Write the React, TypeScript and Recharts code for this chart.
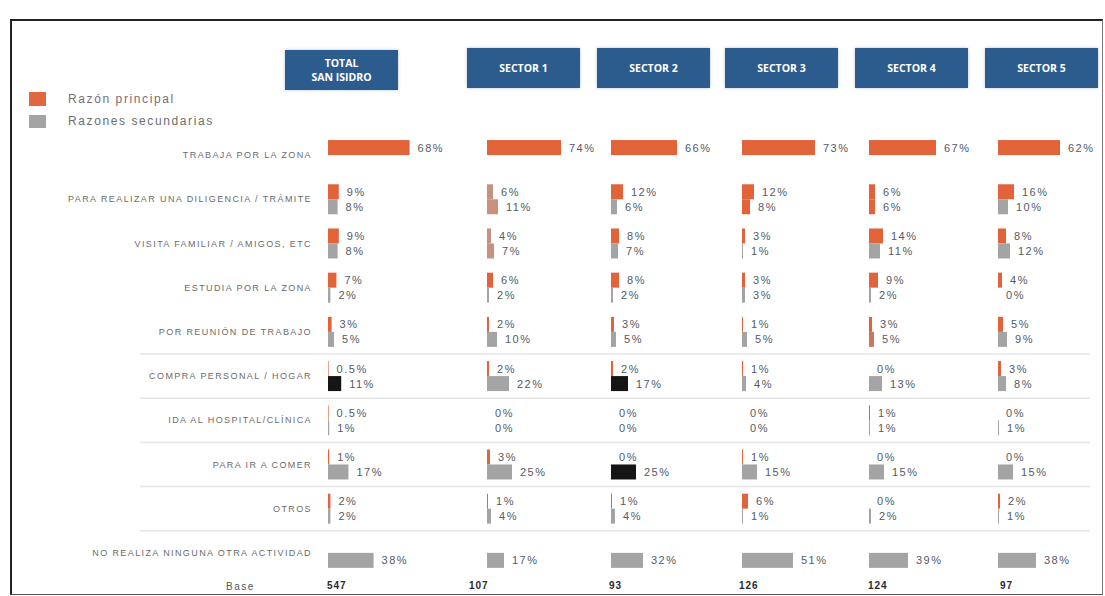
import { BarChart, Bar, XAxis, YAxis, Cell, LabelList } from 'recharts'

// categories, top to bottom
const categories = [
  'TRABAJA POR LA ZONA',
  'PARA REALIZAR UNA DILIGENCIA / TRÁMITE',
  'VISITA FAMILIAR / AMIGOS, ETC',
  'ESTUDIA POR LA ZONA',
  'POR REUNIÓN DE TRABAJO',
  'COMPRA PERSONAL / HOGAR',
  'IDA AL HOSPITAL/CLÍNICA',
  'PARA IR A COMER',
  'OTROS',
  'NO REALIZA NINGUNA OTRA ACTIVIDAD',
]

const panelTitles = [['TOTAL', 'SAN ISIDRO'], ['SECTOR 1'], ['SECTOR 2'], ['SECTOR 3'], ['SECTOR 4'], ['SECTOR 5']]
const baseCounts = [547, 107, 93, 126, 124, 97]

// % values (null = not asked)
const totalPrincipal = [68, 9, 9, 7, 3, 0.5, 0.5, 1, 2, null]
const totalSecundarias = [null, 8, 8, 2, 5, 11, 1, 17, 2, 38]
const sector1Principal = [74, 6, 4, 6, 2, 2, 0, 3, 1, null]
const sector1Secundarias = [null, 11, 7, 2, 10, 22, 0, 25, 4, 17]
const sector2Principal = [66, 12, 8, 8, 3, 2, 0, 0, 1, null]
const sector2Secundarias = [null, 6, 7, 2, 5, 17, 0, 25, 4, 32]
const sector3Principal = [73, 12, 3, 3, 1, 1, 0, 1, 6, null]
const sector3Secundarias = [null, 8, 1, 3, 5, 4, 0, 15, 1, 51]
const sector4Principal = [67, 6, 14, 9, 3, 0, 1, 0, 0, null]
const sector4Secundarias = [null, 6, 11, 2, 5, 13, 1, 15, 2, 39]
const sector5Principal = [62, 16, 8, 4, 5, 3, 0, 0, 2, null]
const sector5Secundarias = [null, 10, 12, 0, 9, 8, 1, 15, 1, 38]

const principalByPanel = [totalPrincipal, sector1Principal, sector2Principal, sector3Principal, sector4Principal, sector5Principal]
const secundariasByPanel = [totalSecundarias, sector1Secundarias, sector2Secundarias, sector3Secundarias, sector4Secundarias, sector5Secundarias]

const ORANGE = '#E2623A'
const GRAY = '#A4A4A4'
const TAN = '#C8907E'
const BLACK = '#151515'

// scan tints in the original
const tint: Record<string, string> = {
  '1-1-p': TAN, '1-1-s': TAN, '1-2-p': TAN, '1-2-s': TAN,
  '0-5-s': BLACK, '2-5-s': BLACK, '2-7-s': BLACK,
  '3-1-s': ORANGE, '4-1-s': ORANGE, '4-4-s': '#C97A5E',
}

const PLOT_TOP = 133
const ROW_H = 44.2
const H = 596
const FONT = '"Liberation Sans", Arial, sans-serif'

const panelLeft = [0, 487, 611, 742, 869, 998]
const headerLeft = [285, 467, 597, 725, 855, 985]
const baseLeft = [327, 469, 609, 739, 868, 1000]

const CatTick = ({ x, y, payload }: any) => (
  <text x={x} y={y} textAnchor="end" dominantBaseline="central"
    style={{ fontSize: 9, letterSpacing: '1.4px', fill: '#6b6b6b', fontFamily: FONT }}>
    {payload.value}
  </text>
)

// bar rect, a lone secondary bar is centred on its row
const makeShape = (solo: (i: number) => boolean) => (s: any) => (
  <rect x={s.x} y={solo(s.index) ? s.y - s.height / 2 : s.y}
    width={Math.max(0, s.width || 0)} height={s.height} fill={s.fill} />
)

const makeLabel = (solo: (i: number) => boolean) => (props: any) => {
  const vb = props.viewBox || props
  const { x, y, width, height } = vb
  const { value, index } = props
  if (value == null) return null
  const dy = solo(index) ? -height / 2 : 0
  return (
    <text x={x + (width || 0) + 8} y={y + height / 2 + dy} dominantBaseline="central"
      style={{ fontSize: 11, letterSpacing: '1.5px', fill: '#555a66', fontFamily: FONT }}>
      {value}%
    </text>
  )
}

function Panel({ p }: { p: number }) {
  const principal = principalByPanel[p]
  const secundarias = secundariasByPanel[p]
  const data = categories.map((cat, i) => ({ cat, principal: principal[i], secundarias: secundarias[i] }))
  const isTotal = p === 0
  const axisW = isTotal ? 328 : 0
  const scale = isTotal ? 1.2 : 1
  const width = axisW + 100 * scale + 20
  const soloS = (i: number) => principal[i] == null
  const never = () => false

  return (
    <div style={{ position: 'absolute', left: panelLeft[p], top: 0 }}>
      <BarChart width={width} height={H} data={data} layout="vertical"
        margin={{ top: PLOT_TOP, right: 20, bottom: H - PLOT_TOP - ROW_H * 10, left: 0 }}
        barCategoryGap="16%" barGap={0}>
        <XAxis type="number" domain={[0, 100]} hide />
        <YAxis type="category" dataKey="cat" width={axisW} hide={!isTotal} interval={0}
          axisLine={false} tickLine={false} tickSize={0} tickMargin={16} tick={<CatTick />} />
        <Bar dataKey="principal" fill={ORANGE} isAnimationActive={false} shape={makeShape(never)}>
          {data.map((_, i) => <Cell key={i} fill={tint[`${p}-${i}-p`] || ORANGE} />)}
          <LabelList dataKey="principal" content={makeLabel(never)} />
        </Bar>
        <Bar dataKey="secundarias" fill={GRAY} isAnimationActive={false} shape={makeShape(soloS)}>
          {data.map((_, i) => <Cell key={i} fill={tint[`${p}-${i}-s`] || GRAY} />)}
          <LabelList dataKey="secundarias" content={makeLabel(soloS)} />
        </Bar>
      </BarChart>
    </div>
  )
}

export default function App() {
  return (
    <div style={{ position: 'absolute', left: 0, top: 0, width: 1105, height: H, background: '#fff', fontFamily: FONT, overflow: 'hidden' }}>
      <div style={{ position: 'absolute', left: 10, top: 19, width: 1090, height: 573, borderTop: '2px solid #222', borderLeft: '2px solid #222', borderRight: '1px solid #777', borderBottom: '1px solid #555' }} />

      <svg width={1105} height={H} style={{ position: 'absolute', left: 0, top: 0 }}>
        {[5, 6, 7, 8, 9].map((k) => (
          <line key={k} x1={140} x2={1090} y1={PLOT_TOP + k * ROW_H} y2={PLOT_TOP + k * ROW_H} stroke="#e6e6e6" strokeWidth={1.5} />
        ))}
      </svg>

      {panelTitles.map((lines, i) => (
        <div key={i} style={{
          position: 'absolute', left: headerLeft[i], top: i === 0 ? 50 : 48, width: 113, height: 40,
          background: '#2C5B8E', color: '#fff', fontFamily: '"Open Sans", sans-serif', fontWeight: 700,
          fontSize: 10.5, lineHeight: '14px', display: 'flex', flexDirection: 'column', alignItems: 'center', justifyContent: 'center',
          boxShadow: '0 0 3px rgba(120,140,170,0.5)',
        }}>
          {lines.map((l) => <span key={l}>{l}</span>)}
        </div>
      ))}

      <div style={{ position: 'absolute', left: 29, top: 92, width: 17, height: 14, background: '#E2663F' }} />
      <div style={{ position: 'absolute', left: 68, top: 92, fontSize: 12, letterSpacing: '1.6px', color: '#7a6e74' }}>Razón principal</div>
      <div style={{ position: 'absolute', left: 29, top: 115, width: 17, height: 13, background: GRAY }} />
      <div style={{ position: 'absolute', left: 68, top: 114, fontSize: 12, letterSpacing: '1.6px', color: '#6e6e6e' }}>Razones secundarias</div>

      {principalByPanel.map((_, p) => <Panel key={p} p={p} />)}

      <div style={{ position: 'absolute', left: 226, top: 581, fontSize: 10, letterSpacing: '1.5px', color: '#555' }}>Base</div>
      {baseCounts.map((b, i) => (
        <div key={i} style={{ position: 'absolute', left: baseLeft[i], top: 580, fontSize: 10, fontWeight: 700, letterSpacing: '1px', color: '#2a2a33' }}>{b}</div>
      ))}
    </div>
  )
}
